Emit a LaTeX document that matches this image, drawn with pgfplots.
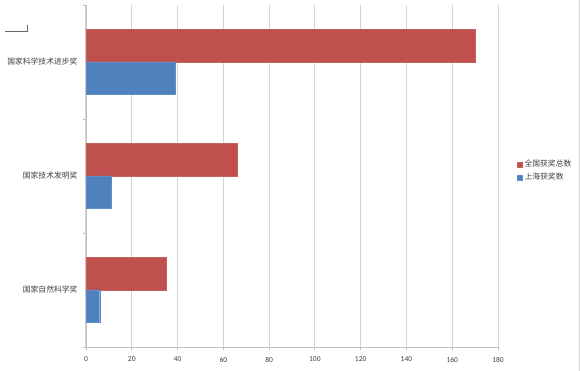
\documentclass[border=0pt]{standalone}
\usepackage{fontspec}
\setmainfont{Carlito}
\newfontfamily\cjk{Noto Sans CJK SC}
\usepackage{pgfplots}
\pgfplotsset{compat=1.18}
\definecolor{cred}{HTML}{C0504D}
\definecolor{cblue}{HTML}{4F81BD}
\definecolor{gridc}{HTML}{D4D4D4}
\definecolor{axc}{HTML}{BFBFBF}
\definecolor{txt}{HTML}{404040}
\begin{document}
\begin{tikzpicture}[x=1pt,y=1pt]
\path[use as bounding box] (0,0) rectangle (580,371);
\draw[gridc, line width=1pt] (579.5,0) -- (579.5,371);
\draw[txt!80, line width=0.6pt] (5,340) -- (27,340) -- (27,346);
\begin{axis}[
  at={(86pt,24pt)}, anchor=south west,
  scale only axis, width=412pt, height=342pt,
  xbar, bar width=32.5pt,
  xmin=0, xmax=180, xtick={0,20,...,180},
  ymin=-0.5, ymax=2.5, ytick={0,1,2},
  yticklabels={国家自然科学奖,国家技术发明奖,国家科学技术进步奖},
  minor ytick={-0.5,0.5,1.5,2.5},
  xmajorgrids, major grid style={gridc, line width=1pt},
  axis x line*=bottom, axis y line*=left,
  axis line style={axc, line width=0.8pt, -},
  tick style={axc, line width=0.8pt},
  major tick length=3pt, minor tick length=3pt,
  xtick align=outside, ytick align=outside,
  major y tick style={draw=none},
  /pgf/number format/assume math mode=true,
  xticklabel style={font=\fontsize{7.5}{8}\selectfont, text=txt, yshift=-3.5pt},
  yticklabel style={font=\cjk\fontsize{7.8}{9}\selectfont, text=txt, xshift=-2pt},
  legend style={at={(1.046,0.515)}, anchor=west, draw=none, fill=none,
    font=\cjk\fontsize{7.8}{9}\selectfont, text=txt, row sep=1pt,
    inner sep=0pt},
  legend cell align=left,
  legend image code/.code={\fill[#1] (0pt,-2.5pt) rectangle (5pt,2.5pt);},
]
\addplot[fill=cred, draw=cred!90!white, bar shift=16.25pt] coordinates {(35,0) (66,1) (170,2)};
\addplot[fill=cblue, draw=cblue!90!white, bar shift=-16.25pt] coordinates {(6,0) (11,1) (39,2)};
\legend{全国获奖总数,上海获奖数}
\end{axis}
\end{tikzpicture}
\end{document}
